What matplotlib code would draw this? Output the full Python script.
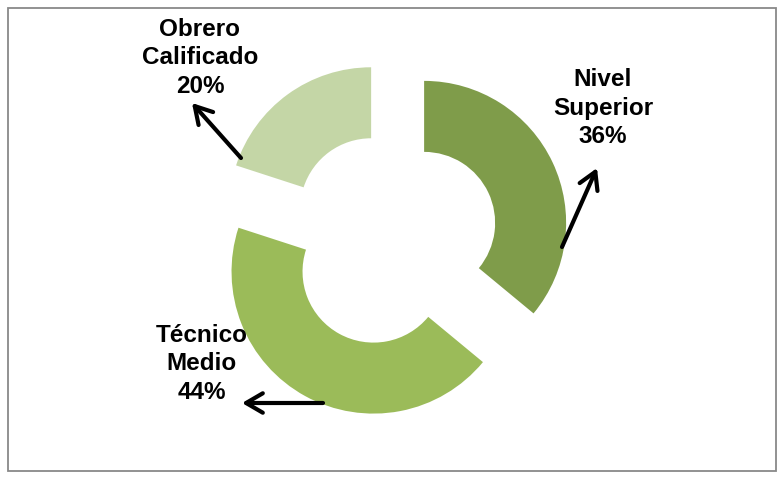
import matplotlib.pyplot as plt
from matplotlib.patches import Rectangle

# ---- Datos ---- #
categorias = ["Nivel\nSuperior", "Técnico\nMedio", "Obrero\nCalificado"]
porcentajes = [36, 44, 20]
colores = ["#7F9C4A", "#9BBB59", "#C4D6A6"]

# posiciones de etiquetas y flechas (pixeles de la figura, y desde arriba)
pos_texto = [(603, 108), (202, 364), (200, 58)]
flechas = [((562, 247), (597, 168)), ((323, 403), (242, 403)), ((241, 158), (192, 103))]

plt.rcParams['font.family'] = ['Liberation Sans', 'DejaVu Sans']

ALTO = 479
fig = plt.figure(figsize=(7.84, 4.79), dpi=100)
ax = fig.add_axes([0, 0, 1, 1])

ax.pie(porcentajes, colors=colores, startangle=90, counterclock=False,
       explode=[0.25, 0.27, 0.25], radius=1.0,
       wedgeprops=dict(width=0.5, edgecolor='none'))

# escala: 1 unidad = 142 px, centro en (392, 238)
ax.set_xlim(-392 / 142, (784 - 392) / 142)
ax.set_ylim((238 - ALTO) / 142, 238 / 142)
ax.set_aspect('auto')
ax.axis('off')

for cat, p, (tx, ty), (cola, punta) in zip(categorias, porcentajes, pos_texto, flechas):
    ax.annotate(f"{cat}\n{p}%", xy=(tx, ALTO - ty), xycoords='figure pixels',
                ha='center', va='center', fontsize=17.5, fontweight='bold',
                linespacing=1.29, color='black')
    ax.annotate('', xy=(punta[0], ALTO - punta[1]), xycoords='figure pixels',
                xytext=(cola[0], ALTO - cola[1]), textcoords='figure pixels',
                arrowprops=dict(arrowstyle='->,head_length=0.6,head_width=0.35',
                                mutation_scale=20, lw=3.0, color='black',
                                shrinkA=0, shrinkB=0))

# marco del grafico
fig.patches.append(Rectangle((8 / 784, 8 / ALTO), 768 / 784, 463 / ALTO,
                             transform=fig.transFigure, fill=False,
                             edgecolor='#898989', lw=1.3))

fig.savefig('out.png', dpi=100)
